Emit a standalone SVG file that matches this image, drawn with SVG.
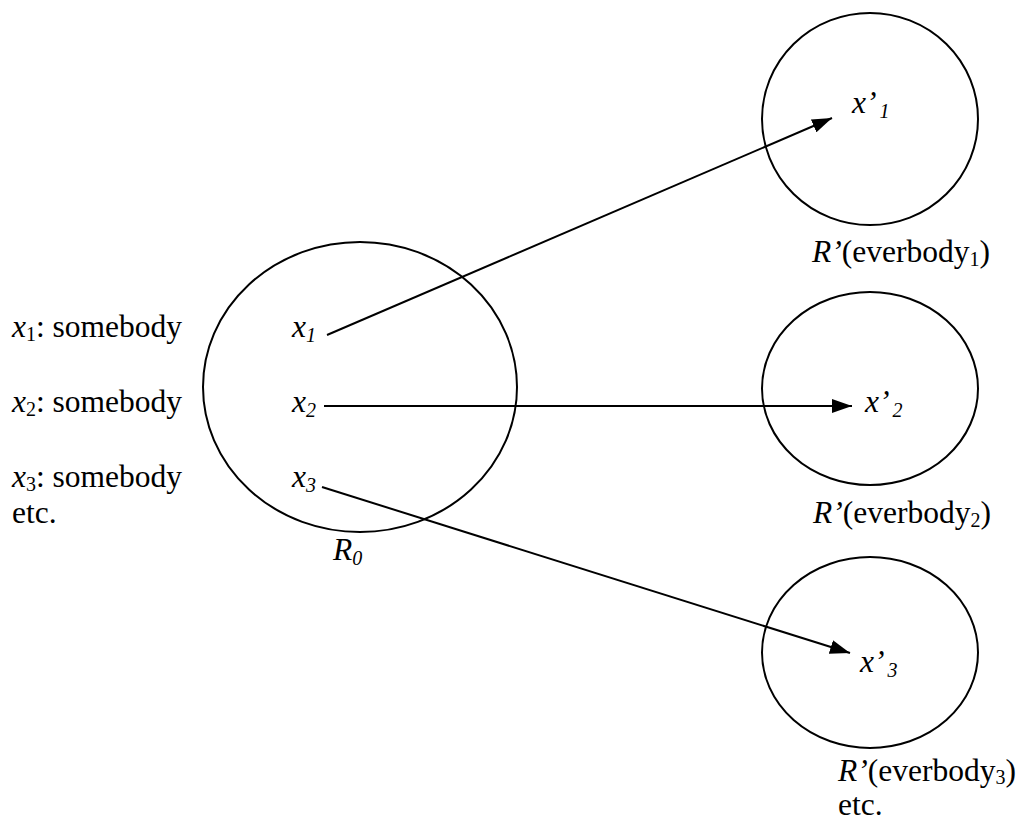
<svg xmlns="http://www.w3.org/2000/svg" width="1035" height="823" viewBox="0 0 1035 823" font-family="'Liberation Serif','Times New Roman',serif">
<style>
text{font-family:"Liberation Serif","Times New Roman",serif;font-size:31.5px;fill:#000}
.i{font-style:italic}
.s{font-size:20px}
.shape{fill:none;stroke:#000;stroke-width:2}
.conn{fill:none;stroke:#000;stroke-width:2}
</style>
<defs>
<marker id="ah" markerUnits="userSpaceOnUse" markerWidth="20" markerHeight="14" refX="20" refY="7" orient="auto">
<path d="M0,0 L20,7 L0,14 z" fill="#000"/>
</marker>
</defs>
<rect width="1035" height="823" fill="#fff"/>
<g id="legend">
<text x="12" y="337"><tspan class="i">x</tspan><tspan class="s" dy="4">1</tspan><tspan dy="-4">: somebody</tspan></text>
<text x="12" y="412"><tspan class="i">x</tspan><tspan class="s" dy="4">2</tspan><tspan dy="-4">: somebody</tspan></text>
<text x="12" y="487"><tspan class="i">x</tspan><tspan class="s" dy="4">3</tspan><tspan dy="-4">: somebody</tspan></text>
<text x="12" y="523">etc.</text>
</g>
<g id="R0">
<ellipse class="shape" cx="360" cy="387" rx="157" ry="145"/>
<text x="292" y="337" class="i">x<tspan class="s" dy="5">1</tspan></text>
<text x="292" y="412" class="i">x<tspan class="s" dy="5">2</tspan></text>
<text x="292" y="487" class="i">x<tspan class="s" dy="5">3</tspan></text>
<text x="333" y="560" class="i">R<tspan class="s" dy="5">0</tspan></text>
</g>
<g id="R1">
<ellipse class="shape" cx="870" cy="119" rx="108" ry="106"/>
<text x="852" y="113" class="i">x’<tspan class="s" dx="3" dy="5">1</tspan></text>
<text x="812" y="262"><tspan class="i">R’</tspan>(everbody<tspan class="s" dy="4">1</tspan><tspan dy="-4">)</tspan></text>
</g>
<g id="R2">
<ellipse class="shape" cx="870" cy="388.5" rx="108" ry="96.5"/>
<text x="865" y="412" class="i">x’<tspan class="s" dx="3" dy="5">2</tspan></text>
<text x="813" y="523"><tspan class="i">R’</tspan>(everbody<tspan class="s" dy="4">2</tspan><tspan dy="-4">)</tspan></text>
</g>
<g id="R3">
<ellipse class="shape" cx="870" cy="652.5" rx="108" ry="95.5"/>
<text x="860" y="672" class="i">x’<tspan class="s" dx="3" dy="5">3</tspan></text>
<text x="838" y="781"><tspan class="i">R’</tspan>(everbody<tspan class="s" dy="3">3</tspan><tspan dy="-3">)</tspan></text>
<text x="838" y="815">etc.</text>
</g>
<g id="connectors">
<line class="conn" x1="327" y1="335" x2="832" y2="118" marker-end="url(#ah)"/>
<line class="conn" x1="324" y1="406" x2="852" y2="406" marker-end="url(#ah)"/>
<line class="conn" x1="322" y1="487" x2="850" y2="653" marker-end="url(#ah)"/>
</g>
</svg>
